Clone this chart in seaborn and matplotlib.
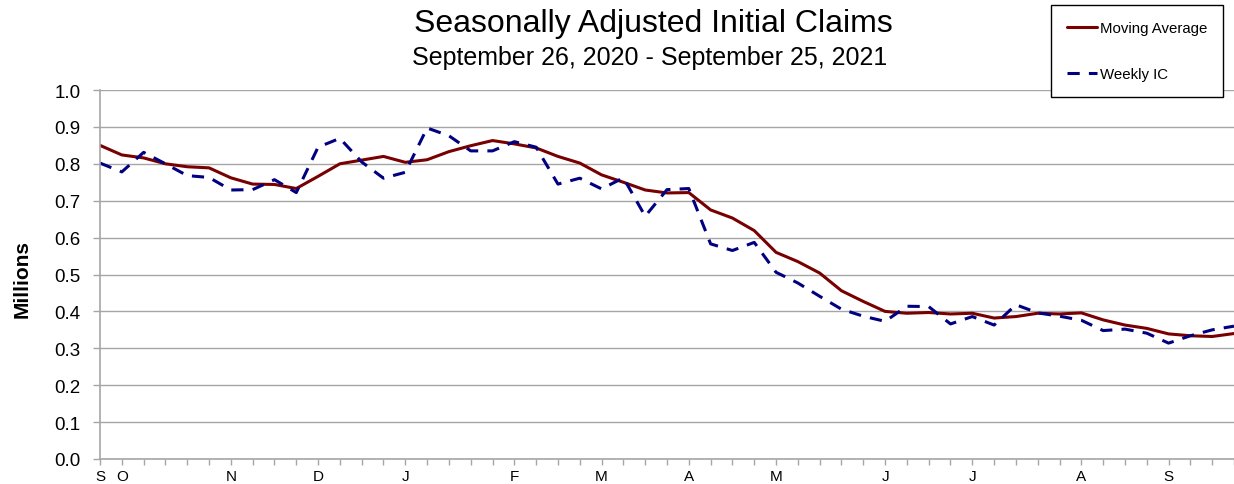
import numpy as np
import pandas as pd
import matplotlib
matplotlib.use("Agg")
import matplotlib.pyplot as plt
import matplotlib.dates as mdates
import seaborn as sns

# week ending dates, 26 Sep 2020 .. 25 Sep 2021
week_end = pd.date_range("2020-09-26", periods=53, freq="7D")

# moving average of initial claims, millions
moving_avg = [0.850, 0.824, 0.816, 0.800, 0.792, 0.789, 0.762, 0.745, 0.744, 0.733,
              0.766, 0.800, 0.810, 0.820, 0.804, 0.811, 0.833, 0.849, 0.863, 0.854,
              0.843, 0.820, 0.802, 0.770, 0.750, 0.729, 0.721, 0.722, 0.675, 0.653,
              0.619, 0.560, 0.535, 0.504, 0.456, 0.427, 0.400, 0.395, 0.397, 0.393,
              0.395, 0.382, 0.386, 0.395, 0.393, 0.396, 0.377, 0.363, 0.354, 0.339,
              0.334, 0.332, 0.340]

# weekly initial claims, millions
weekly_ic = [0.802, 0.778, 0.831, 0.800, 0.768, 0.763, 0.729, 0.730, 0.757, 0.722,
             0.845, 0.869, 0.805, 0.761, 0.777, 0.897, 0.876, 0.835, 0.835, 0.860,
             0.845, 0.745, 0.761, 0.732, 0.762, 0.658, 0.730, 0.733, 0.583, 0.565,
             0.587, 0.506, 0.477, 0.441, 0.406, 0.387, 0.373, 0.414, 0.413, 0.366,
             0.386, 0.363, 0.418, 0.396, 0.387, 0.376, 0.348, 0.352, 0.341, 0.314,
             0.334, 0.350, 0.360]

y_ticks = [0.0, 0.1, 0.2, 0.3, 0.4, 0.5, 0.6, 0.7, 0.8, 0.9, 1.0]

sns.set_style("white")
plt.rcParams["font.family"] = ["Liberation Sans", "DejaVu Sans"]
plt.rcParams["text.color"] = "black"
plt.rcParams["axes.labelcolor"] = "black"

fig = plt.figure(figsize=(12.34, 4.85), dpi=100)
ax = fig.add_axes([100 / 1234, 25 / 485, 1 - 100 / 1234, 369 / 485])

grey = "#a6a6a6"
sns.lineplot(x=week_end, y=moving_avg, ax=ax, color="#780000", linewidth=2.2,
             label="Moving Average")
sns.lineplot(x=week_end, y=weekly_ic, ax=ax, color="#000080", linewidth=2.2,
             linestyle=(0, (4, 3)), label="Weekly IC")
if ax.get_legend() is not None:
    ax.get_legend().remove()

ax.set_ylim(0, 1.0)
ax.set_yticks(y_ticks)
ax.set_yticklabels([f"{v:.1f}" for v in y_ticks], fontsize=13.5)
ax.set_xlim(mdates.date2num(week_end[0]),
            mdates.date2num(week_end[0] + pd.Timedelta(weeks=51.6)))

# a tick every week, first letter of the month where a new month starts
labels = []
for i, d in enumerate(week_end):
    if i == 0 or d.month != week_end[i - 1].month:
        labels.append(d.strftime("%b")[0])
    else:
        labels.append("")
ax.set_xticks(mdates.date2num(week_end))
ax.set_xticklabels(labels, fontsize=11)

ax.grid(axis="y", color=grey, linewidth=1.0)
ax.grid(axis="x", visible=False)
ax.tick_params(axis="y", which="major", left=True, length=5, width=1, color=grey,
               pad=9, labelcolor="black")
ax.tick_params(axis="x", which="major", bottom=True, length=4.3, width=1, color=grey,
               pad=3, labelcolor="black")
for side in ["top", "right"]:
    ax.spines[side].set_visible(False)
for side in ["left", "bottom"]:
    ax.spines[side].set_color(grey)
    ax.spines[side].set_linewidth(1.2)

ax.set_xlabel("")
ax.set_ylabel("Millions", fontsize=15, fontweight="bold", color="black")
ax.yaxis.set_label_coords(-0.06, 0.49)

fig.text(653 / 1234, 1 - 24 / 485, "Seasonally Adjusted Initial Claims",
         ha="center", va="center", fontsize=23, color="black")
fig.text(650 / 1234, 1 - 58 / 485, "September 26, 2020 - September 25, 2021",
         ha="center", va="center", fontsize=18, color="black")

handles, names = ax.get_legend_handles_labels()
leg = fig.legend(handles, names, loc="upper left",
                 bbox_to_anchor=(1051 / 1234, 1 - 6 / 485), fontsize=10.8,
                 frameon=True, fancybox=False, edgecolor="black", framealpha=1,
                 handlelength=2.0, handletextpad=0.2, labelspacing=2.15,
                 borderpad=1.05, borderaxespad=0)
leg.get_frame().set_linewidth(1.0)
for t in leg.get_texts():
    t.set_color("black")

fig.savefig("out.png", dpi=100)
